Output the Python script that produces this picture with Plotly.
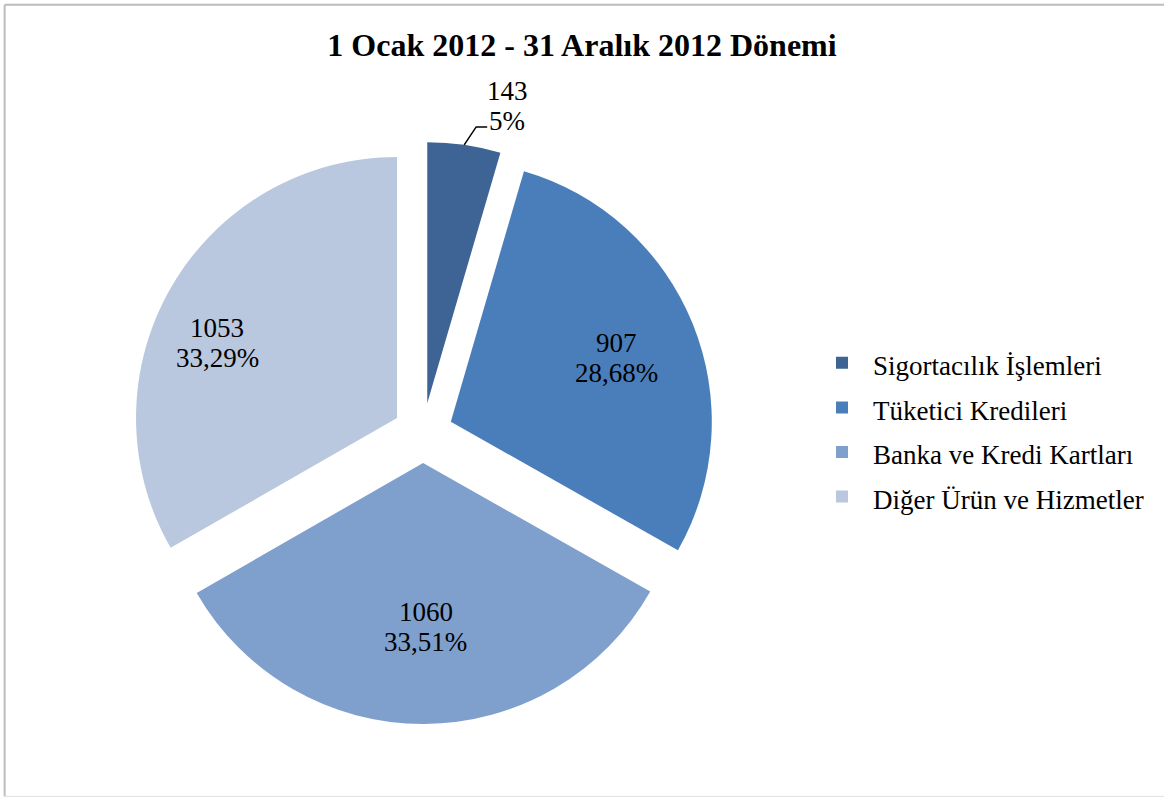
import math
import plotly.graph_objects as go

# Complaint counts by product group, 1 Jan 2012 - 31 Dec 2012
categories = [
    "Sigortacılık İşlemleri",
    "Tüketici Kredileri",
    "Banka ve Kredi Kartları",
    "Diğer Ürün ve Hizmetler",
]
counts = [143, 907, 1060, 1053]
pct_decimals = [0, 2, 2, 2]
colors = ["#3D6495", "#4A7EBB", "#7F9FCC", "#B9C7DF"]

title_text = "1 Ocak 2012 - 31 Aralık 2012 Dönemi"
serif = "Times New Roman, Liberation Serif, serif"

# figure and pie geometry (pixels)
W, H = 1164, 798
CX, CY = 423, 433          # pie centre
PULL = 0.115               # explode distance as a share of the radius
HALF = 291                 # half size of the square pie domain
R = HALF / (1 + PULL)      # slice radius plotly will draw
LINE_GAP = 30              # distance between the two lines of a data label

# inside label placement: (share of radius from the slice tip, angle nudge in degrees)
label_place = [None, (0.682, 1.1), (0.630, -0.8), (0.747, -7.5)]

total = sum(counts)


def pct_text(v, nd):
    s = f"{v / total * 100:.{nd}f}%"
    return s.replace(".", ",")


# legend rows are given a taller line box while the words stay at 27px
legend_names = [f'<span style="font-size:27px">{c}</span>' for c in categories]

fig = go.Figure(
    go.Pie(
        labels=legend_names,
        values=counts,
        customdata=categories,
        sort=False,
        direction="clockwise",
        rotation=0,
        pull=[PULL] * len(counts),
        marker=dict(colors=colors, line=dict(width=0)),
        textinfo="none",
        domain=dict(x=[(CX - HALF) / W, (CX + HALF) / W],
                    y=[1 - (CY + HALF) / H, 1 - (CY - HALF) / H]),
        hovertemplate="%{customdata}<br>%{value} (%{percent})<extra></extra>",
    )
)


def label_line(x, y, text):
    return dict(
        x=x / W, y=1 - y / H, xref="paper", yref="paper",
        text=text, showarrow=False,
        xanchor="center", yanchor="middle", align="center",
        font=dict(family=serif, size=27, color="#000000"),
    )


# data labels: count on the first line, share on the second
annotations = []
shapes = []
cum = 0
for i, v in enumerate(counts):
    mid = math.radians((cum + v / 2) / total * 360)
    cum += v
    tip_x = CX + PULL * R * math.sin(mid)
    tip_y = CY - PULL * R * math.cos(mid)
    if label_place[i] is None:
        # small slice: label outside with an elbow leader line
        ex = tip_x + R * math.sin(mid)
        ey = tip_y - R * math.cos(mid)
        kx, ky = ex + 12, ey - 18
        lx, ly = kx + 11, ky
        shapes.append(dict(
            type="path", xref="paper", yref="paper",
            path=(f"M {ex / W},{1 - ey / H} L {kx / W},{1 - ky / H} "
                  f"L {lx / W},{1 - ly / H}"),
            line=dict(color="#000000", width=1.5),
        ))
        tx, ty = lx + 20, ly - 21
    else:
        frac, nudge = label_place[i]
        ang = mid + math.radians(nudge)
        tx = tip_x + frac * R * math.sin(ang)
        ty = tip_y - frac * R * math.cos(ang)
    annotations.append(label_line(tx, ty - LINE_GAP / 2, str(v)))
    annotations.append(label_line(tx, ty + LINE_GAP / 2, pct_text(v, pct_decimals[i])))

# thin frame along the top, left and bottom edges
shapes += [
    dict(type="line", xref="paper", yref="paper", x0=0.004, x1=1, y0=0.994, y1=0.994,
         line=dict(color="#BDBDBD", width=2)),
    dict(type="line", xref="paper", yref="paper", x0=0.004, x1=0.004, y0=0.002, y1=0.994,
         line=dict(color="#BDBDBD", width=2)),
    dict(type="line", xref="paper", yref="paper", x0=0.004, x1=1, y0=0.002, y1=0.002,
         line=dict(color="#E0E0E0", width=1)),
]

fig.update_layout(
    width=W,
    height=H,
    margin=dict(l=0, r=0, t=0, b=0),
    paper_bgcolor="#FFFFFF",
    title=dict(
        text="<b>" + title_text + "</b>",
        x=0.5,
        xanchor="center",
        y=1 - 45 / H,
        yanchor="middle",
        font=dict(family=serif, size=32, color="#000000"),
    ),
    legend=dict(
        x=811 / W,
        xanchor="left",
        y=1 - 430 / H,
        yanchor="middle",
        itemwidth=52,
        font=dict(family=serif, size=32, color="#000000"),
        bgcolor="rgba(0,0,0,0)",
    ),
    annotations=annotations,
    shapes=shapes,
)

fig.write_html("out.html")
